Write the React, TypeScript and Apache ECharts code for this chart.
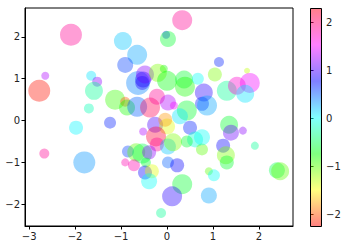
import React, { useEffect, useRef } from "react";
import * as echarts from "echarts";

const xs = [-2.09,-2.65,-2.78,-1.65,-1.52,-1.59,-1.70,-1.13,0.33,-0.02,0.02,-0.96,-0.65,-0.91,-0.63,-0.52,-0.48,-0.54,-0.20,-0.07,0.00,0.37,0.39,0.67,0.80,-0.91,-0.87,-0.65,-0.37,-0.22,0.02,0.15,0.43,0.76,0.87,1.13,1.04,1.74,1.30,1.52,1.80,1.70,-1.98,-1.24,-2.67,-1.80,-0.26,0.00,-0.52,-0.24,-0.22,0.02,0.13,0.50,0.61,0.43,0.76,-0.85,-0.67,-0.54,-0.39,-0.91,-0.72,-0.46,-0.48,-0.33,-0.39,0.02,0.22,0.33,0.11,-0.13,1.35,1.39,1.65,1.91,1.22,1.28,1.30,0.76,0.91,1.02,0.91,2.39,2.46,-0.04,0.28];
const ys = [2.05,1.07,0.71,1.07,0.93,0.71,0.29,0.50,2.40,2.05,1.95,1.90,1.57,1.33,0.90,0.98,1.10,0.90,1.14,1.24,0.95,0.98,0.81,1.00,0.67,0.45,0.31,0.33,0.31,0.57,0.43,0.36,0.24,0.40,0.36,1.40,1.10,1.19,0.71,0.83,0.90,0.64,-0.17,-0.05,-0.79,-1.00,-0.10,-0.14,-0.26,-0.38,-0.57,-0.62,-0.52,-0.17,-0.45,-0.50,-0.69,-0.74,-0.76,-0.79,-0.76,-1.00,-1.07,-1.00,-1.24,-1.21,-1.45,-1.00,-1.07,-1.52,-1.81,-2.21,-0.10,-0.29,-0.24,-0.60,-0.60,-0.83,-1.00,-0.40,-1.21,-1.31,-1.79,-1.19,-1.21,0.02,0.10];
const cs = [1.9,1.3,-2.2,0.1,1.2,-0.3,-0.2,-0.9,1.9,0.7,-0.6,0.2,0.3,0.6,0.4,0.8,1.2,0.9,-1.1,-0.8,-0.7,-0.6,-0.8,0.0,0.9,-2.0,-0.8,0.5,2.1,1.9,1.3,1.5,-0.6,0.7,0.3,0.7,-1.1,-1.3,-0.3,1.7,1.5,0.1,0.05,0.7,1.9,0.35,1.0,-1.4,1.3,2.2,1.9,0.2,-1.1,0.7,-0.1,-0.6,-1.0,0.6,-1.0,-0.5,1.2,1.8,1.8,-0.6,0.8,-1.4,0.0,0.5,0.8,-0.6,0.9,-0.3,-0.6,1.1,1.2,-0.3,0.8,-1.1,-0.6,0.0,-1.0,0.0,0.3,-0.5,-1.0,-1.8,0.1];
const sizes = [22,8,22,10,10,18,10,20,20,8,16,18,20,16,24,16,18,14,18,8,20,18,20,12,18,10,16,20,20,16,16,8,20,14,20,10,14,6,20,18,20,18,14,12,10,22,16,16,8,20,14,16,18,14,16,12,12,12,18,20,14,8,12,10,14,14,16,12,14,20,20,10,18,16,8,8,14,18,14,16,8,12,16,16,18,14,16];

const xTicks = [-3, -2, -1, 0, 1, 2];
const yTicks = [-2, -1, 0, 1, 2];
const cTicks = [-2, -1, 0, 1, 2];
const cmap = ["#ff0000", "#ffff00", "#00ff00", "#00ffff", "#0000ff", "#ff00ff", "#ff0018"];
const cMin = -2.25;
const cMax = 2.3;

const fmt = (v: number) => (v < 0 ? "\u2212" + Math.abs(v) : String(v));
const withAlpha = (hex: string, a: number) => {
  const r = parseInt(hex.slice(1, 3), 16), g = parseInt(hex.slice(3, 5), 16), b = parseInt(hex.slice(5, 7), 16);
  return `rgba(${r},${g},${b},${a})`;
};

export default function App() {
  const ref = useRef<HTMLDivElement>(null);
  useEffect(() => {
    const chart = echarts.init(ref.current!, null, { renderer: "svg" });
    const data = xs.map((x, i) => [x, ys[i], cs[i], sizes[i]]);
    const axisCommon = {
      axisLine: { show: true, onZero: false, lineStyle: { color: "#000", width: 1 } },
      axisTick: { show: true, length: 3.5, lineStyle: { color: "#000" } },
      axisLabel: { color: "#222", fontSize: 10, fontFamily: "DejaVu Sans", formatter: fmt },
      splitLine: { show: false },
    };
    const n = cmap.length - 1;
    const stops = cmap.map((_, i) => ({ offset: i / n, color: withAlpha(cmap[n - i], 0.5) }));
    chart.setOption({
      animation: false,
      backgroundColor: "#fff",
      grid: [
        { left: 25, top: 8, width: 268, height: 218, show: true, borderColor: "#000", borderWidth: 1, backgroundColor: "transparent" },
        { left: 310, top: 8, width: 11, height: 218, show: false },
      ],
      xAxis: [
        {
          ...axisCommon, type: "value", gridIndex: 0, min: -3.09, max: 2.74,
          axisTick: { ...axisCommon.axisTick, customValues: xTicks },
          axisLabel: { ...axisCommon.axisLabel, customValues: xTicks, margin: 5 },
        },
        { type: "value", gridIndex: 1, min: 0, max: 1, show: false },
      ],
      yAxis: [
        {
          ...axisCommon, type: "value", gridIndex: 0, min: -2.52, max: 2.69,
          axisTick: { ...axisCommon.axisTick, customValues: yTicks },
          axisLabel: { ...axisCommon.axisLabel, customValues: yTicks, margin: 5 },
        },
        {
          type: "value", gridIndex: 1, min: cMin, max: cMax, position: "right",
          axisLine: { show: false },
          splitLine: { show: false },
          axisTick: { show: true, length: 3.5, lineStyle: { color: "#000" }, customValues: cTicks },
          axisLabel: { ...axisCommon.axisLabel, customValues: cTicks, margin: 5 },
        },
      ],
      visualMap: {
        show: false, type: "continuous", min: cMin, max: cMax, dimension: 2, seriesIndex: 0,
        inRange: { color: cmap },
      },
      graphic: [
        {
          type: "rect", z: 10, silent: true,
          shape: { x: 310.5, y: 8.5, width: 11, height: 218 },
          style: {
            fill: { type: "linear", x: 0, y: 0, x2: 0, y2: 1, colorStops: stops },
            stroke: "#000", lineWidth: 1,
          },
        },
      ],
      series: [
        {
          type: "scatter", xAxisIndex: 0, yAxisIndex: 0, data,
          symbolSize: (v: number[]) => v[3],
          itemStyle: { opacity: 0.38 },
          emphasis: { disabled: true },
        },
      ],
    });
    return () => chart.dispose();
  }, []);
  return <div ref={ref} style={{ position: "fixed", left: 0, top: 0, width: 348, height: 246 }} />;
}
